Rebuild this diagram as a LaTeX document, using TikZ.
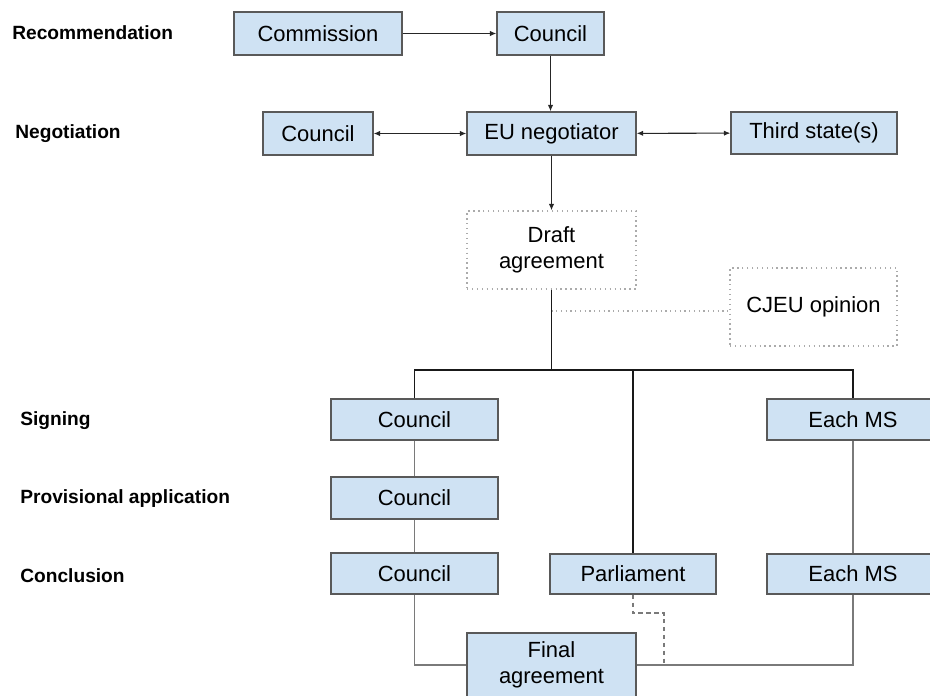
\documentclass[tikz,border=0pt]{standalone}
\usepackage{fontspec}
\setmainfont{Liberation Sans}
\usetikzlibrary{arrows.meta}

\definecolor{boxblue}{HTML}{CFE2F3}
\definecolor{boxline}{HTML}{595959}
\definecolor{linkgrey}{HTML}{7A7A7A}
\definecolor{dotgrey}{HTML}{ABABAB}

\tikzset{
  stage/.style={anchor=west, inner sep=0pt, text height=1.6ex, text depth=0.25ex,
    font=\fontsize{10.9}{13}\selectfont\bfseries},
  body/.style={draw=boxline, line width=0.8pt, fill=boxblue, inner sep=0pt,
    align=center, font=\fontsize{12.5}{14.5}\selectfont},
  draftbox/.style={draw=dotgrey, line width=0.8pt, dotted, inner sep=0pt,
    align=center, font=\fontsize{12.5}{14.5}\selectfont},
  tip/.style={-{Latex[length=3.6pt,width=3pt]}, line width=0.6pt, black!85},
  bothtip/.style={{Latex[length=3.6pt,width=3pt]}-{Latex[length=3.6pt,width=3pt]}, line width=0.6pt, black!85},
  mainline/.style={line width=0.8pt, black!90},
  greyline/.style={line width=0.8pt, linkgrey},
  dashline/.style={line width=0.7pt, linkgrey, dash pattern=on 2.5pt off 2pt},
  dotline/.style={line width=0.7pt, dotgrey, dotted}
}

\begin{document}
\begin{tikzpicture}[x=0.02cm, y=-0.02cm]
    \useasboundingbox (0,0) rectangle (930,696);
    \clip (0,0) rectangle (930,696);

    % Stage labels
    \node [stage] (recom) at (12,33) {Recommendation};
    \node [stage] (negot) at (15,132) {Negotiation};
    \node [stage] (sign) at (20,419) {Signing};
    \node [stage] (prov) at (20,497) {Provisional application};
    \node [stage] (concl) at (20,576) {Conclusion};

    % Recommendation row
    \node [body, minimum width=3.36cm, minimum height=0.86cm] (comm) at (318,33.5) {Commission};
    \node [body, minimum width=2.14cm, minimum height=0.86cm] (councilA) at (550.5,33.5) {Council};

    % Negotiation row
    \node [body, minimum width=2.2cm, minimum height=0.86cm] (councilN) at (318,133.5) {Council};
    \node [body, minimum width=3.38cm, minimum height=0.86cm] (eu) at (551.5,133.5) {EU negotiator};
    \node [body, minimum width=3.32cm, minimum height=0.84cm] (third) at (814,133) {Third state(s)};

    % Draft and opinion
    \node [draftbox, minimum width=3.38cm, minimum height=1.56cm] (draft) at (551.5,250) {Draft\\agreement};
    \node [draftbox, minimum width=3.34cm, minimum height=1.56cm] (cjeu) at (813.5,307) {CJEU opinion};

    % Signing, provisional application, conclusion
    \node [body, minimum width=3.34cm, minimum height=0.82cm] (councilS) at (414.5,419.5) {Council};
    \node [body, minimum width=3.34cm, minimum height=0.84cm] (councilP) at (414.5,498) {Council};
    \node [body, minimum width=3.34cm, minimum height=0.82cm] (councilC) at (414.5,573.5) {Council};
    \node [body, minimum width=3.32cm, minimum height=0.8cm] (parl) at (633,574) {Parliament};
    \node [body, minimum width=3.44cm, minimum height=0.82cm] (msS) at (853,419.5) {Each MS};
    \node [body, minimum width=3.44cm, minimum height=0.8cm] (msC) at (853,574) {Each MS};
    \node [body, minimum width=3.38cm, minimum height=1.28cm] (final) at (551.5,665) {Final\\agreement};

    \coordinate (split) at (551.5,370);
    \coordinate (kink) at (664,613);

    % Arrows of the first two rows
    \draw [tip] (comm) -- (councilA);
    \draw [tip] (councilA.south) -- (councilA.south |- eu.north);
    \draw [bothtip] (councilN) -- (eu);
    \draw [bothtip] (eu) -- (third);
    \draw [tip] (eu) -- (draft);

    % Opinion link
    \draw [dotline] (draft.south |- 0,311) -- (cjeu.west |- 0,311);

    % Split into the three branches
    \draw [mainline] (draft.south) -- (split);
    \draw [mainline] (councilS.north) |- (split) -| (msS.north);
    \draw [mainline] (split -| parl.north) -- (parl.north);

    % Branches down to the final agreement
    \draw [greyline] (councilS) -- (councilP);
    \draw [greyline] (councilP) -- (councilC);
    \draw [greyline] (msS) -- (msC);
    \draw [greyline] (councilC.south) |- (final.west);
    \draw [greyline] (final.east) -| (msC.south);
    \draw [dashline] (parl.south) |- (kink) -- (kink |- final.east);
\end{tikzpicture}
\end{document}
